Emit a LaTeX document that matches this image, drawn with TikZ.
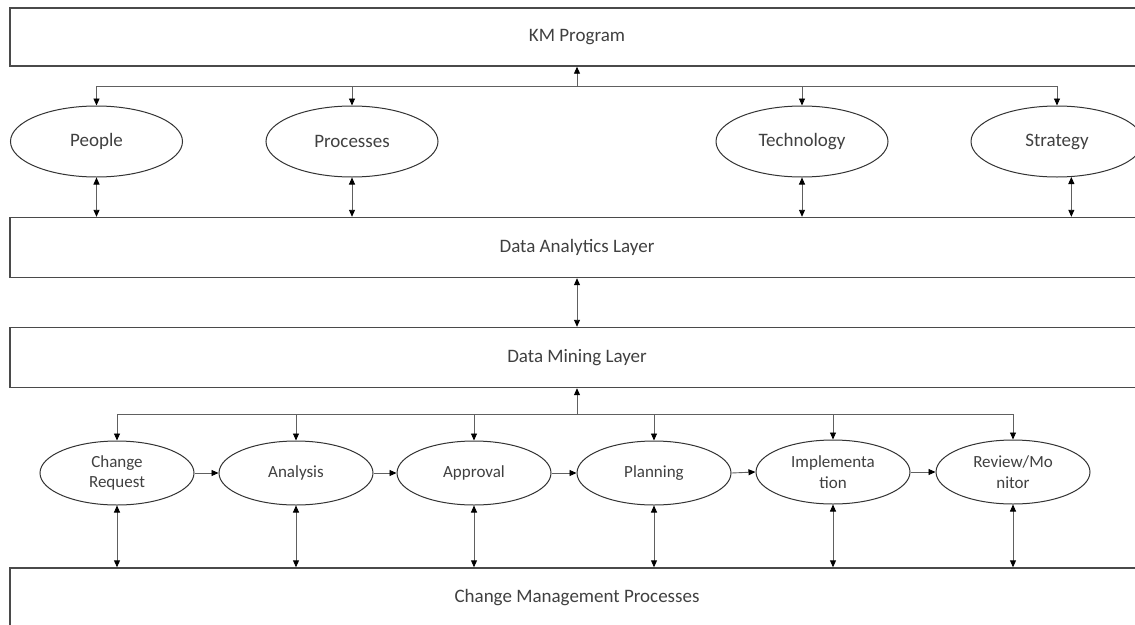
\documentclass[tikz,border=0pt]{standalone}
\usepackage{fontspec}
\setmainfont{Carlito}
\usetikzlibrary{shapes.geometric,arrows.meta}
\definecolor{txt}{HTML}{404040}
\definecolor{bord}{HTML}{4A4A4A}
\definecolor{conn}{HTML}{606060}
\tikzset{
  layer/.style={draw=bord, line width=1.4pt, rectangle, minimum width=1134pt, minimum height=60pt, inner sep=0pt, text=txt, font=\fontsize{19}{23}\selectfont},
  topell/.style={draw=black!80, line width=1pt, ellipse, minimum width=172pt, minimum height=71pt, inner sep=0pt, text=txt, font=\fontsize{19}{23}\selectfont},
  botell/.style={draw=black!80, line width=1pt, ellipse, minimum width=154pt, minimum height=64pt, inner sep=0pt, text=txt, align=center, font=\fontsize{17}{20.5}\selectfont},
  tip/.tip={Triangle[length=7pt,width=6pt,color=black]},
  conline/.style={draw=conn, line width=0.9pt},
  arr/.style={conline, -{tip}},
  darr/.style={conline, {tip}-{tip}}
}
\begin{document}
\begin{tikzpicture}[x=1pt,y=-1pt]
\clip (0,0) rectangle (1135,624);
\fill[white] (0,0) rectangle (1135,624);

% layers
\node[layer, minimum height=58pt] (km) at (577,37) {KM Program};
\node[layer] (da) at (577,247.5) {Data Analytics Layer};
\node[layer] (dm) at (577,357.5) {Data Mining Layer};
\node[layer] (cm) at (577,598) {Change Management Processes};

% top ellipses
\node[topell] (people) at (96.5,141.5) {People};
\node[topell] (proc) at (352,141.5) {Processes};
\node[topell] (tech) at (802,141.5) {Technology};
\node[topell] (strat) at (1057,141.5) {Strategy};

% bottom ellipses
\node[botell] (cr) at (117,473) {Change\\Request};
\node[botell] (an) at (296,473) {Analysis};
\node[botell] (ap) at (474,473) {Approval};
\node[botell] (pl) at (654,473) {Planning};
\node[botell] (im) at (833,472) {Implementa\\tion};
\node[botell] (rv) at (1013,472) {Review/Mo\\nitor};

% top branch
\coordinate (j1) at (577,86);
\draw[arr] (j1) -- (j1 |- km.south);
\draw[arr] (j1) -| (people.north);
\draw[arr] (j1) -| (proc.north);
\draw[arr] (j1) -| (tech.north);
\draw[arr] (j1) -| (strat.north);

% top ellipses to data analytics
\draw[darr] (people.south) -- (people.south |- da.north);
\draw[darr] (proc.south) -- (proc.south |- da.north);
\draw[darr] (tech.south) -- (tech.south |- da.north);
\draw[darr] (strat.-68) -- (strat.-68 |- da.north);

% analytics <-> mining
\draw[darr] (da.south) -- (dm.north);

% bottom branch
\coordinate (j2) at (577,414);
\draw[arr] (j2) -- (j2 |- dm.south);
\draw[arr] (j2) -| (cr.north);
\draw[arr] (j2) -| (an.north);
\draw[arr] (j2) -| (ap.north);
\draw[arr] (j2) -| (pl.north);
\draw[arr] (j2) -| (im.north);
\draw[arr] (j2) -| (rv.north);

% sequence
\draw[arr] (cr.east) -- (an.west);
\draw[arr] (an.east) -- (ap.west);
\draw[arr] (ap.east) -- (pl.west);
\draw[arr] (pl.east) -- (im.west);
\draw[arr] (im.east) -- (rv.west);

% bottom ellipses to change management
\foreach \n in {cr,an,ap,pl,im,rv}
  \draw[darr] (\n.south) -- (\n.south |- cm.north);
\end{tikzpicture}
\end{document}
